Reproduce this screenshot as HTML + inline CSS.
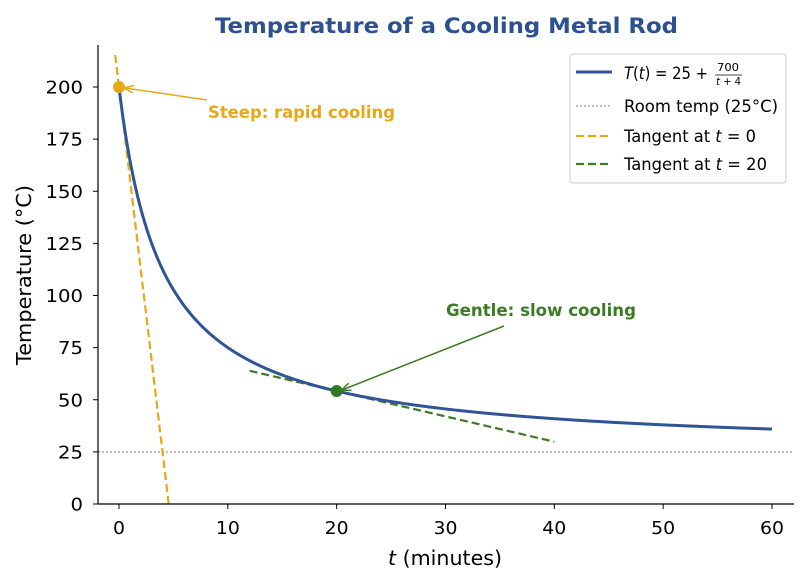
<!DOCTYPE html>
<html><head><meta charset="utf-8"><style>
body{margin:0;background:#fff;}
svg{display:block;font-family:"DejaVu Sans","Liberation Sans",sans-serif;}
</style></head><body>
<svg id="s" width="810" height="585" viewBox="0 0 810 585">
<defs>
<marker id="ao" markerWidth="10" markerHeight="8" refX="9" refY="4" orient="auto" markerUnits="userSpaceOnUse"><path d="M0,0 L10,4 L0,8" fill="none" stroke="#e6a817" stroke-width="1.5"/></marker>
<marker id="ag" markerWidth="10" markerHeight="8" refX="9" refY="4" orient="auto" markerUnits="userSpaceOnUse"><path d="M0,0 L10,4 L0,8" fill="none" stroke="#3a7d22" stroke-width="1.5"/></marker>
</defs>
<text x="215" y="33" textLength="463" lengthAdjust="spacingAndGlyphs" font-size="21" font-weight="bold" fill="#2c5191">Temperature of a Cooling Metal Rod</text>
<line x1="98" y1="452" x2="794" y2="452" stroke="#999" stroke-width="1.3" stroke-dasharray="2,2"/>
<g id="plot"></g>
<line x1="98" y1="45" x2="98" y2="504" stroke="#000" stroke-width="1.2"/>
<line x1="98" y1="504" x2="794" y2="504" stroke="#000" stroke-width="1.2"/>
<g id="ticks" font-size="17.5" fill="#000"></g>
<text x="388" y="565" textLength="114" lengthAdjust="spacingAndGlyphs" font-size="20"><tspan font-style="italic">t</tspan> (minutes)</text>
<text transform="translate(31,365) rotate(-90)" textLength="180" lengthAdjust="spacingAndGlyphs" font-size="20">Temperature (°C)</text>
<line x1="207" y1="100" x2="125" y2="88" stroke="#e6a817" stroke-width="1.5" marker-end="url(#ao)"/>
<text x="208" y="118" textLength="187" lengthAdjust="spacingAndGlyphs" font-size="17" font-weight="bold" fill="#e6a817">Steep: rapid cooling</text>
<line x1="504" y1="326" x2="342" y2="390" stroke="#3a7d22" stroke-width="1.5" marker-end="url(#ag)"/>
<text x="446" y="316" textLength="190" lengthAdjust="spacingAndGlyphs" font-size="17" font-weight="bold" fill="#3a7d22">Gentle: slow cooling</text>
<rect x="570" y="54" width="216" height="129" rx="3" fill="#fff" stroke="#ccc"/>
<g font-size="17">
<line x1="576" y1="72" x2="612" y2="72" stroke="#2f5597" stroke-width="3"/>
<text x="624" y="79" textLength="84" lengthAdjust="spacingAndGlyphs"><tspan font-style="italic">T</tspan>(<tspan font-style="italic">t</tspan>) = 25 +</text>
<text x="717" y="71" font-size="11" textLength="22" lengthAdjust="spacingAndGlyphs">700</text>
<line x1="715" y1="75" x2="742" y2="75" stroke="#000" stroke-width="0.8"/>
<text x="716" y="85" font-size="11" textLength="25" lengthAdjust="spacingAndGlyphs"><tspan font-style="italic">t</tspan> + 4</text>
<line x1="576" y1="106" x2="612" y2="106" stroke="#999" stroke-width="1.3" stroke-dasharray="2,2"/>
<text x="624" y="112" textLength="154" lengthAdjust="spacingAndGlyphs">Room temp (25°C)</text>
<line x1="576" y1="136" x2="612" y2="136" stroke="#e6a817" stroke-width="2.2" stroke-dasharray="8,4"/>
<text x="624" y="142" textLength="132" lengthAdjust="spacingAndGlyphs">Tangent at <tspan font-style="italic">t</tspan> = 0</text>
<line x1="576" y1="164" x2="612" y2="164" stroke="#3a7d22" stroke-width="2.2" stroke-dasharray="8,4"/>
<text x="624" y="170" textLength="143" lengthAdjust="spacingAndGlyphs">Tangent at <tspan font-style="italic">t</tspan> = 20</text>
</g>
</svg>
<script>
var X=t=>119+t*10.883,Y=v=>504-v*2.085,NS="http://www.w3.org/2000/svg";
function el(p,n,a){var e=document.createElementNS(NS,n);for(var k in a)e.setAttribute(k,a[k]);p.appendChild(e);return e;}
var g=document.getElementById("plot"),d="";
for(var i=0;i<=600;i++){var t=i/10;d+=(i?"L":"M")+X(t).toFixed(2)+","+Y(25+700/(t+4)).toFixed(2);}
el(g,"path",{d:"M"+X(-0.35)+","+Y(200+43.75*0.35)+"L"+X(4.57)+","+Y(0),stroke:"#e6a817","stroke-width":2.2,"stroke-dasharray":"8,4",fill:"none"});
el(g,"path",{d:"M"+X(12)+","+Y(54.17+1.215*8)+"L"+X(40)+","+Y(54.17-1.215*20),stroke:"#3a7d22","stroke-width":2.2,"stroke-dasharray":"8,4",fill:"none"});
el(g,"path",{d:d,stroke:"#2f5597","stroke-width":3,fill:"none"});
el(g,"circle",{cx:X(0),cy:Y(200),r:6,fill:"#e6a817"});
el(g,"circle",{cx:X(20),cy:Y(54.17),r:6,fill:"#2e7a22"});
var tk=document.getElementById("ticks");
for(var v=0;v<=60;v+=10){var s=String(v),w=s.length*12;el(tk,"line",{x1:X(v),x2:X(v),y1:504,y2:509,stroke:"#000"});el(tk,"text",{x:X(v)-w/2,y:534,textLength:w,lengthAdjust:"spacingAndGlyphs"}).textContent=s;}
for(var v=0;v<=200;v+=25){var s=String(v),w=s.length*12.5;el(tk,"line",{x1:93,x2:98,y1:Y(v),y2:Y(v),stroke:"#000"});el(tk,"text",{x:83-w,y:Y(v)+6.5,textLength:w,lengthAdjust:"spacingAndGlyphs"}).textContent=s;}
</script>
</body></html>
